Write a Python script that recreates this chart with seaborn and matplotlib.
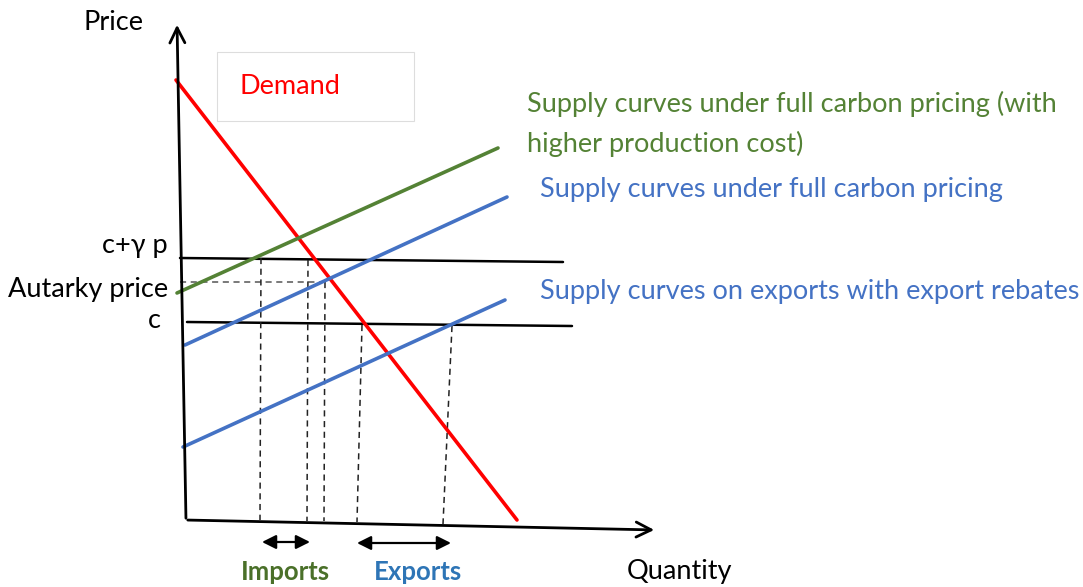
import matplotlib
matplotlib.use("Agg")
import matplotlib.pyplot as plt
import seaborn as sns
from matplotlib.patches import Rectangle

sns.set_theme(style="white")
plt.rcParams['font.family'] = ['Lato', 'DejaVu Sans']

# Schematic curve endpoints (diagram units, origin top-left like the reference picture)
demand_x = [176, 517]
demand_y = [80, 520]
green_x = [177, 498]
green_y = [293, 148]
blue1_x = [185, 507]
blue1_y = [345, 197]
blue2_x = [183, 505]
blue2_y = [447, 300]
cgp_x = [180, 563]
cgp_y = [258, 262]
c_x = [187, 572]
c_y = [322, 326]
autarky_x = [180, 327]
autarky_y = [282, 282]
# dashed verticals: (x_top, y_top, x_bottom, y_bottom)
drops = [(261, 258, 260, 520), (308, 260, 307, 521), (325, 282, 324, 521),
         (362, 325, 357, 522), (452, 326, 443, 524)]

RED = "#ff0000"
GREEN = "#548235"
DARK_GREEN = "#4a7029"
BLUE = "#4472c4"
EXP_BLUE = "#2e75b6"

fig = plt.figure(figsize=(10.83, 5.87), dpi=100)
ax = fig.add_axes([0, 0, 1, 1])
ax.set_xlim(0, 1083)
ax.set_ylim(587, 0)
ax.axis('off')

def seg(xs, ys, color, lw=2.4, ls='-'):
    sns.lineplot(x=xs, y=ys, color=color, lw=lw, linestyle=ls, sort=False,
                 estimator=None, ax=ax)

# axes of the diagram
ax.annotate("", xy=(177, 22), xytext=(186, 521),
            arrowprops=dict(arrowstyle="->,head_length=0.9,head_width=0.45", lw=2, color="black"))
ax.annotate("", xy=(657, 530), xytext=(185, 520),
            arrowprops=dict(arrowstyle="->,head_length=0.9,head_width=0.45", lw=2, color="black"))

seg(cgp_x, cgp_y, "black", lw=1.8)
seg(c_x, c_y, "black", lw=1.8)
seg(autarky_x, autarky_y, "#555555", lw=1.1, ls=(0, (4, 3)))
for xt, yt, xb, yb in drops:
    seg([xt, xb], [yt, yb], "#222222", lw=1.1, ls=(0, (4, 3)))

seg(demand_x, demand_y, RED, lw=2.6)
seg(green_x, green_y, GREEN, lw=2.6)
seg(blue1_x, blue1_y, BLUE, lw=2.6)
seg(blue2_x, blue2_y, BLUE, lw=2.6)

# import / export arrows
for x0, x1, y in [(262, 310, 542), (357, 451, 543)]:
    ax.annotate("", xy=(x1, y), xytext=(x0, y),
                arrowprops=dict(arrowstyle="<|-|>,head_length=0.7,head_width=0.35",
                                lw=1.6, color="black", shrinkA=0, shrinkB=0))

# demand box
ax.add_patch(Rectangle((217, 52), 197, 69, fill=False, edgecolor="#dddddd", lw=0.8))

fs = 19.5
ax.text(290, 86, "Demand", color=RED, fontsize=fs, va="center", ha="center")
ax.text(113, 22, "Price", color="black", fontsize=fs, va="center", ha="center")
ax.text(168, 246, "c+γ p", color="black", fontsize=fs, va="center", ha="right")
ax.text(168, 289, "Autarky price", color="black", fontsize=fs, va="center", ha="right")
ax.text(161, 321, "c", color="black", fontsize=fs, va="center", ha="right")
ax.text(527, 104, "Supply curves under full carbon pricing (with", color=GREEN, fontsize=fs, va="center", ha="left")
ax.text(527, 144, "higher production cost)", color=GREEN, fontsize=fs, va="center", ha="left")
ax.text(540, 190, "Supply curves under full carbon pricing", color=BLUE, fontsize=fs, va="center", ha="left")
ax.text(540, 292, "Supply curves on exports with export rebates", color=BLUE, fontsize=fs, va="center", ha="left")
ax.text(285, 572, "Imports", color=DARK_GREEN, fontsize=18.5, fontweight="bold", va="center", ha="center")
ax.text(418, 572, "Exports", color=EXP_BLUE, fontsize=18.5, fontweight="bold", va="center", ha="center")
ax.text(679, 571, "Quantity", color="black", fontsize=fs, va="center", ha="center")

fig.savefig("out.png", dpi=100)
